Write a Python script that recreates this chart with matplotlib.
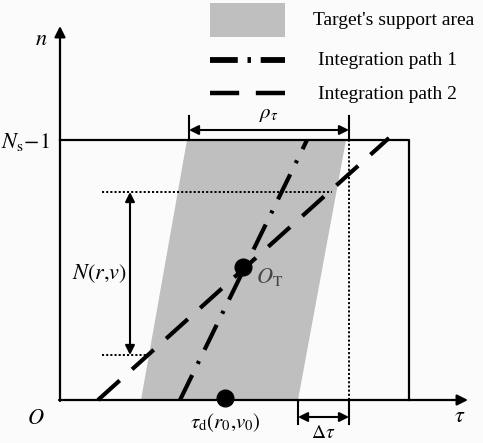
import matplotlib.pyplot as plt
from matplotlib.patches import Polygon, Rectangle
from matplotlib.lines import Line2D

plt.rcParams['font.family'] = ['Liberation Serif', 'DejaVu Serif']
plt.rcParams['mathtext.fontset'] = 'stix'
plt.rcParams['lines.scale_dashes'] = False

# diagram geometry (tau, n), origin at axis corner
support_tau = [81, 238, 286, 127]
support_n = [0, 0, 260, 260]
rect_tau = [0, 349]
rect_n = [0, 260]
path1_tau = [120, 247]
path1_n = [0, 260]
path2_tau = [38, 329]
path2_n = [0, 262]
centre = (183, 133)
tau_d = (165, 2)
rho_span = [129, 289]
delta_span = [238, 289]
N_span = [45, 208]
N_tau = 70
dot_h_top = [42, 272]
dot_h_bot = [42, 87]

legend_labels = ["Target's support area", "Integration path 1", "Integration path 2"]

grey = '#c0bfbf'
dash1 = (0, (20, 9, 2.2, 9))
dash2 = (0, (21, 12))

fig = plt.figure(figsize=(4.83, 4.43), dpi=100)
fig.patch.set_facecolor('#fbfbfb')
ax = fig.add_axes([0, 0, 1, 1])
ax.set_xlim(-60, 423)
ax.set_ylim(-43, 400)
ax.axis('off')

# support area
ax.add_patch(Polygon(list(zip(support_tau, support_n)), closed=True,
                     facecolor=grey, edgecolor='none', zorder=1))

# frame
ax.plot([rect_tau[0], rect_tau[1], rect_tau[1]], [rect_n[1], rect_n[1], rect_n[0]],
        color='black', lw=1.6, zorder=3)

# axes arrows
ax.annotate('', xy=(0, 374), xytext=(0, -1),
            arrowprops=dict(arrowstyle='-|>', color='black', lw=1.6, mutation_scale=16,
                            shrinkA=0, shrinkB=0), zorder=4)
ax.annotate('', xy=(408, 0), xytext=(-1, 0),
            arrowprops=dict(arrowstyle='-|>', color='black', lw=1.6, mutation_scale=16,
                            shrinkA=0, shrinkB=0), zorder=4)

# dotted guides
ax.plot([rho_span[1], rho_span[1]], [0, 260], color='black', lw=1.4, ls=(0, (1.5, 1.5)), zorder=2)
ax.plot(dot_h_top, [N_span[1]] * 2, color='black', lw=1.4, ls=(0, (1.5, 1.5)), zorder=2)
ax.plot(dot_h_bot, [N_span[0]] * 2, color='black', lw=1.4, ls=(0, (1.5, 1.5)), zorder=2)

# integration paths
ax.plot(path1_tau, path1_n, color='black', lw=3, ls=dash1, dash_capstyle='butt', zorder=5)
ax.plot(path2_tau, path2_n, color='black', lw=3, ls=dash2, dash_capstyle='butt', zorder=5)

# points
ax.plot(*centre, 'o', color='black', ms=12, zorder=6)
ax.plot(*tau_d, 'o', color='black', ms=12, zorder=6)

def span_arrow(p0, p1):
    ax.annotate('', xy=p1, xytext=p0,
                arrowprops=dict(arrowstyle='<|-|>', color='black', lw=1.5, mutation_scale=14,
                                shrinkA=0, shrinkB=0), zorder=4)

# rho arrow
for t in rho_span:
    ax.plot([t, t], [260, 284], color='black', lw=1.5)
span_arrow((rho_span[0], 270), (rho_span[1], 270))
ax.text(sum(rho_span) / 2, 276, r'$\rho_{\tau}$', fontsize=15, ha='center', va='bottom')

# delta tau arrow
for t in delta_span:
    ax.plot([t, t], [0, -24], color='black', lw=1.5)
span_arrow((delta_span[0], -17), (delta_span[1], -17))
ax.text(sum(delta_span) / 2, -25, r'$\Delta\tau$', fontsize=14, ha='center', va='top')

# N arrow
span_arrow((N_tau, N_span[0]), (N_tau, N_span[1]))
ax.text(N_tau - 3, (N_span[0] + N_span[1]) / 2, r'$N(r{,}v)$', fontsize=16,
        ha='right', va='center')

# labels
ax.text(-12, 360, r'$n$', fontsize=16, ha='right', va='center')
ax.text(394, -18, r'$\tau$', fontsize=16, ha='left', va='center')
ax.text(-15, -20, r'$O$', fontsize=16, ha='right', va='center')
ax.text(-10, 258, r'$N_{\rm s}\!-\!1$', fontsize=16, ha='right', va='center')
ax.text(centre[0] + 13, centre[1] - 10, r'$O_{\rm T}$', fontsize=16, ha='left',
        va='center', color='#444444')
ax.text(tau_d[0], -23, r'$\tau_{\rm d}(r_0{,}v_0)$', fontsize=15, ha='center', va='center')

# legend
ax.add_patch(Rectangle((150, 363), 75, 34, facecolor=grey, edgecolor='none'))
ax.add_line(Line2D([150, 225], [340, 340], color='black', lw=4.2, ls=(0, (20, 7, 2.5, 7)),
                   dash_capstyle='butt'))
ax.add_line(Line2D([150, 225], [307, 307], color='black', lw=3.2, ls=(0, (21, 12)),
                   dash_capstyle='butt'))
ax.text(253, 380, legend_labels[0], fontsize=14, ha='left', va='center')
for y, lab in zip([340, 306], legend_labels[1:]):
    ax.text(258, y, lab, fontsize=14, ha='left', va='center')

fig.savefig('out.png', dpi=100, facecolor=fig.get_facecolor())
